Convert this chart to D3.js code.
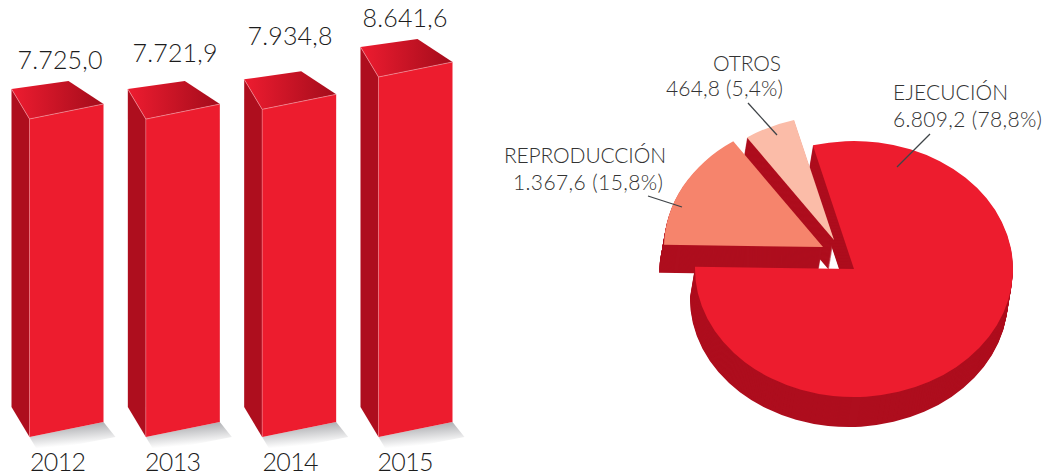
<!DOCTYPE html>
<html><head><meta charset="utf-8">
<script src="https://cdnjs.cloudflare.com/ajax/libs/d3/7.8.5/d3.min.js"></script>
<style>html,body{margin:0;background:#fff}svg{display:block}text{font-family:Lato,"Open Sans",sans-serif}</style>
</head><body><svg id="c" width="1044" height="475"></svg>
<script>
// data
const years = ["2012","2013","2014","2015"];
const totals = [7725.0,7721.9,7934.8,8641.6];
const totalLabels = ["7.725,0","7.721,9","7.934,8","8.641,6"];
const sliceNames = ["EJECUCIÓN","REPRODUCCIÓN","OTROS"];
const sliceValues = [6809.2,1367.6,464.8];
const sliceLabels = ["6.809,2 (78,8%)","1.367,6 (15,8%)","464,8 (5,4%)"];

// layout
const svg = d3.select("#c");
const defs = svg.append("defs");
const RED="#ED1C2E", DARK="#AE0E1E";
const topG = defs.append("linearGradient").attr("id","topG");
topG.append("stop").attr("offset",0).attr("stop-color","#EE1C30");
topG.append("stop").attr("offset",1).attr("stop-color","#A30C1B");
const shG = defs.append("linearGradient").attr("id","shG").attr("x1",0).attr("y1",0).attr("x2",0.25).attr("y2",1);
shG.append("stop").attr("offset",0.1).attr("stop-color","#A3A4A8");
shG.append("stop").attr("offset",0.85).attr("stop-color","#fff");

const x = d3.scalePoint().domain(years).range([29.5,378.5]);
const baseY = 437;
const y = d3.scaleLinear().domain([781,8641.6]).range([baseY,77]);
const w=74, skew=-15, sideDx=-18, sideDy=-30, backDx=39, backDy=-38;
const labelY=[69,62,45,27], labelCx=[60,175,290,405], yearCx=[58,173,290.5,405.5];
const poly=p=>p.map(d=>d.join(",")).join(" ");

years.forEach((yr,i)=>{
  const X=x(yr), T=y(totals[i]), g=svg.append("g");
  g.append("polygon").attr("points",poly([[X,baseY],[X+w,baseY+skew],[X+w+12,baseY],[X+9,baseY+15]])).attr("fill","url(#shG)");
  g.append("polygon").attr("points",poly([[X+sideDx,T+sideDy],[X,T],[X,baseY],[X+sideDx,baseY+sideDy]])).attr("fill",DARK);
  g.append("polygon").attr("points",poly([[X,T],[X+w,T+skew],[X+w,baseY+skew],[X,baseY]])).attr("fill",RED);
  g.append("polygon").attr("points",poly([[X+sideDx,T+sideDy],[X+backDx,T+backDy],[X+w,T+skew],[X,T]])).attr("fill","url(#topG)");
  g.append("polyline").attr("points",poly([[X+sideDx,T+sideDy],[X,T],[X+w,T+skew]])).attr("fill","none").attr("stroke","#F7A0A8").attr("stroke-width",0.6);
  g.append("line").attr("x1",X).attr("x2",X).attr("y1",T).attr("y2",baseY).attr("stroke","#F7A0A8").attr("stroke-width",0.4);
  svg.append("text").attr("x",labelCx[i]).attr("y",labelY[i]).attr("text-anchor","middle").attr("font-size",25).attr("font-weight",300).attr("textLength",85).attr("fill","#1c1c1c").text(totalLabels[i]);
  svg.append("text").attr("x",yearCx[i]).attr("y",471).attr("text-anchor","middle").attr("font-size",25).attr("font-weight",300).attr("textLength",56).attr("fill","#1c1c1c").text(yr);
});

// pie
const cx=854, cy=269, rx=159, ry=128, lean=-5;
const depths=[30,28,30];
const pie=d3.pie().sort(null).startAngle(-15*Math.PI/180).endAngle(345*Math.PI/180);
const arcs=pie(sliceValues);
const arc=d3.arc().innerRadius(0);
const explode=[[0,0],[-31,-22],[-20,-29]];
const radiusK=[1,1,0.97];
const angleTweak=[[0,2.3],[2.3,0],[0,0]].map(a=>a.map(d=>d*Math.PI/180));
const topFill=[RED,"#F6846C","#FBBCA8"];
const sliceD=i=>arc.outerRadius(rx*radiusK[i])({
  startAngle:arcs[i].startAngle+angleTweak[i][0],
  endAngle:arcs[i].endAngle+angleTweak[i][1]
});
const tf=(i,t)=>`translate(${cx+explode[i][0]+lean*t/depths[i]},${cy+explode[i][1]+t}) scale(1,${ry/rx})`;
const wall=i=>{
  d3.range(depths[i],0,-1).forEach(t=>{
    svg.append("path").attr("d",sliceD(i)).attr("fill",DARK).attr("transform",tf(i,t));
  });
};
const face=i=>svg.append("path").attr("d",sliceD(i)).attr("fill",topFill[i]).attr("transform",tf(i,0));
wall(2); wall(1); face(1); wall(0); face(2); face(0);

// leaders
[[748,103,777,135],[648,196,682,207],[930,134,897,167]].forEach(l=>{
  svg.append("line").attr("x1",l[0]).attr("y1",l[1]).attr("x2",l[2]).attr("y2",l[3]).attr("stroke","#3f4448").attr("stroke-width",1.3);
});
const T=(s,a,b,anc,len)=>svg.append("text").attr("x",a).attr("y",b).attr("text-anchor",anc).attr("font-size",21).attr("font-weight",300).attr("textLength",len).attr("fill","#333").text(s);
T(sliceNames[2],747,71,"middle",68);
T(sliceLabels[2],724.5,96,"middle",117);
T(sliceNames[1],666,163,"end",162);
T(sliceLabels[1],663,190,"end",150);
T(sliceNames[0],893,100,"start",115);
T(sliceLabels[0],893,127,"start",149);
</script></body></html>
